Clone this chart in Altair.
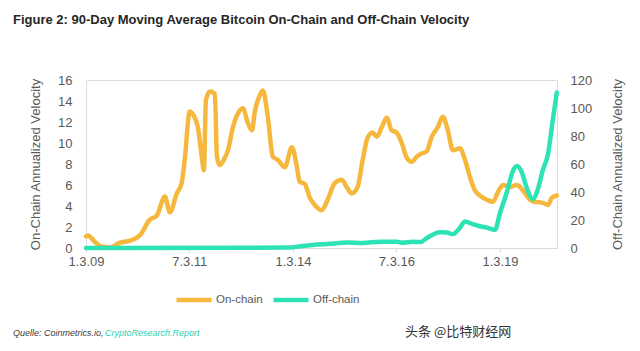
import altair as alt
import pandas as pd

# ---- data ----
on_dates = [
    "2009-01-03", "2009-01-20", "2009-03-21", "2009-05-05", "2009-08-02", "2009-10-29",
    "2010-01-26", "2010-04-23", "2010-07-20", "2010-09-20", "2010-11-30", "2011-01-13",
    "2011-03-15", "2011-04-27", "2011-05-24", "2011-07-07", "2011-08-20", "2011-09-17",
    "2011-10-21", "2011-11-09", "2011-11-27", "2012-01-01", "2012-02-14", "2012-03-03",
    "2012-03-28", "2012-05-12", "2012-06-08", "2012-07-22", "2012-09-04", "2012-10-18",
    "2012-12-01", "2013-01-06", "2013-02-02", "2013-03-07", "2013-04-12", "2013-05-26",
    "2013-07-09", "2013-08-22", "2013-10-23", "2013-12-24", "2014-02-07", "2014-03-03",
    "2014-04-17", "2014-05-31", "2014-07-14", "2014-09-14", "2014-11-05", "2015-01-08",
    "2015-03-09", "2015-04-22", "2015-06-05", "2015-07-27", "2015-09-10", "2015-10-23",
    "2015-12-07", "2016-01-12", "2016-02-25", "2016-04-08", "2016-05-23", "2016-07-05",
    "2016-08-19", "2016-10-02", "2016-11-16", "2016-12-30", "2017-02-12", "2017-03-27",
    "2017-05-11", "2017-07-03", "2017-08-17", "2017-09-30", "2017-11-14", "2018-01-15",
    "2018-02-28", "2018-04-12", "2018-05-26", "2018-07-09", "2018-09-09", "2018-11-03",
    "2018-12-15", "2019-01-30", "2019-03-31", "2019-06-01", "2019-07-24", "2019-09-24",
    "2019-11-06", "2020-01-17", "2020-03-01", "2020-04-06", "2020-05-18",
]
on_values = [
    1.1, 1.2, 0.6, 0.2, 0.05, 0.5,
    0.7, 1.2, 2.7, 3.1, 4.9, 3.4,
    5.2, 6.2, 8.4, 13.0, 12.4, 11.5,
    8.7, 7.4, 14.1, 14.9, 14.7, 8.7,
    7.9, 8.6, 9.3, 11.5, 12.8, 13.3,
    11.9, 11.2, 13.1, 14.3, 15.0, 12.5,
    8.7, 8.4, 7.7, 9.6, 7.7, 6.3,
    6.1, 4.8, 4.1, 3.6, 4.6, 6.2,
    6.5, 5.8, 5.2, 5.8, 8.4, 10.5,
    11.0, 10.6, 11.5, 12.4, 11.2, 11.0,
    10.0, 8.6, 8.2, 8.7, 9.0, 9.2,
    10.6, 11.5, 12.5, 11.2, 9.3, 9.5,
    8.4, 6.8, 5.5, 5.0, 4.6, 4.4,
    5.3, 6.0, 5.8, 6.0, 5.5, 4.6,
    4.4, 4.3, 4.1, 4.8, 5.0,
]

off_dates = [
    "2009-01-03", "2013-12-01", "2014-03-30", "2014-06-27", "2014-11-24", "2015-04-22",
    "2015-09-10", "2016-02-10", "2016-07-05", "2016-08-20", "2016-11-27", "2017-02-01",
    "2017-03-27", "2017-07-21", "2017-09-20", "2017-11-14", "2018-01-15", "2018-02-28",
    "2018-05-08", "2018-07-09", "2018-09-09", "2018-11-20", "2019-01-03", "2019-03-05",
    "2019-04-27", "2019-06-01", "2019-07-15", "2019-08-27", "2019-10-20", "2019-12-03",
    "2020-01-17", "2020-03-01", "2020-04-14", "2020-05-18",
]
off_values = [
    0.0, 0.3, 1.5, 2.2, 3.0, 4.0,
    3.6, 4.5, 4.5, 3.8, 4.5, 4.2,
    7.0, 11.3, 11.0, 10.0, 14.5, 19.0,
    17.0, 15.5, 14.5, 13.0, 25.0, 40.0,
    55.0, 58.5, 54.0, 43.0, 35.0, 42.0,
    56.0, 67.0, 92.0, 111.0,
]

series_names = ["On-chain", "Off-chain"]
series_colors = ["#F5B83D", "#2DE2B4"]
left_ticks = [0, 2, 4, 6, 8, 10, 12, 14, 16]
right_ticks = [0, 20, 40, 60, 80, 100, 120]
x_tick_dates = [(2009, 1, 3), (2011, 7, 3), (2014, 1, 3), (2016, 7, 3), (2019, 1, 3)]

title_text = "Figure 2: 90-Day Moving Average Bitcoin On-Chain and Off-Chain Velocity"
source_plain = "Quelle: Coinmetrics.io,"
source_link = "CryptoResearch.Report"
watermark = "头条 @比特财经网"

# ---- tables ----
on_df = pd.DataFrame({"date": pd.to_datetime(on_dates), "value": on_values, "series": series_names[0]})
off_df = pd.DataFrame({"date": pd.to_datetime(off_dates), "value": off_values, "series": series_names[1]})

FONT = "Liberation Sans"
GRAY = "#595959"

x_enc = alt.X(
    "date:T",
    scale=alt.Scale(domain=[alt.DateTime(year=2009, month=1, date=3),
                            alt.DateTime(year=2020, month=5, date=20)]),
    axis=alt.Axis(
        values=[alt.DateTime(year=y, month=m, date=d) for (y, m, d) in x_tick_dates],
        format="%-m.%-d.%y", title=None, grid=False, labelFlush=False,
        domainColor="#d9d9d9", tickColor="#d9d9d9", tickSize=4, labelPadding=3,
        labelFontSize=13, labelColor=GRAY, labelFont=FONT,
    ),
)

color_enc = alt.Color(
    "series:N",
    scale=alt.Scale(domain=series_names, range=series_colors),
    legend=alt.Legend(
        title=None, orient="none", legendX=88, legendY=200, direction="horizontal",
        symbolType="stroke", symbolSize=1225, symbolStrokeWidth=4.5,
        labelFontSize=11.5, labelFont=FONT, labelColor=GRAY, labelOffset=2,
        columnPadding=1,
    ),
)

on_line = alt.Chart(on_df).mark_line(strokeWidth=4.5, interpolate="monotone", strokeCap="round").encode(
    x=x_enc,
    y=alt.Y("value:Q", scale=alt.Scale(domain=[0, 16]),
            axis=alt.Axis(title="On-Chain Annualized Velocity", values=left_ticks, orient="left",
                          grid=False, domain=False, ticks=False, labelPadding=14,
                          labelFontSize=13, labelColor=GRAY, labelFont=FONT,
                          titleFontSize=13, titleFontWeight="normal", titleColor=GRAY,
                          titleFont=FONT, titlePadding=15)),
    color=color_enc,
)

off_line = alt.Chart(off_df).mark_line(strokeWidth=4.5, interpolate="monotone", strokeCap="round").encode(
    x=x_enc,
    y=alt.Y("value:Q", scale=alt.Scale(domain=[0, 120]),
            axis=alt.Axis(title="Off-Chain Annualized Velocity", values=right_ticks, orient="right",
                          grid=False, domain=False, ticks=False, labelPadding=13,
                          labelFontSize=13, labelColor=GRAY, labelFont=FONT,
                          titleAngle=270, titleBaseline="top",
                          titleFontSize=13, titleFontWeight="normal", titleColor=GRAY,
                          titleFont=FONT, titlePadding=20)),
    color=color_enc,
)

src1 = alt.Chart(pd.DataFrame({"t": [source_plain]})).mark_text(
    align="left", baseline="middle", fontSize=9, fontStyle="italic", font=FONT, color="#404040"
).encode(x=alt.value(-73), y=alt.value(253), text="t:N")

src2 = alt.Chart(pd.DataFrame({"t": [source_link]})).mark_text(
    align="left", baseline="middle", fontSize=9, fontStyle="italic", font=FONT, color="#2BCFB0"
).encode(x=alt.value(19), y=alt.value(253), text="t:N")

wm = alt.Chart(pd.DataFrame({"t": [watermark]})).mark_text(
    align="left", baseline="middle", fontSize=13, font="Noto Sans CJK SC", color="#333333"
).encode(x=alt.value(319), y=alt.value(252), text="t:N")

chart = alt.layer(on_line, off_line, src1, src2, wm).resolve_scale(y="independent").properties(
    width=471,
    height=168,
    title=alt.Title(title_text, anchor="start", frame="group", dx=-73, offset=47,
                    font=FONT, fontSize=13, fontWeight="bold", color="#262626"),
    autosize=alt.AutoSizeParams(type="none"),
    padding={"left": 86, "top": 80, "right": 83, "bottom": 103},
).configure_view(stroke=None).configure(background="white")

chart.save("out.html", embed_options={"renderer": "svg", "actions": False})
